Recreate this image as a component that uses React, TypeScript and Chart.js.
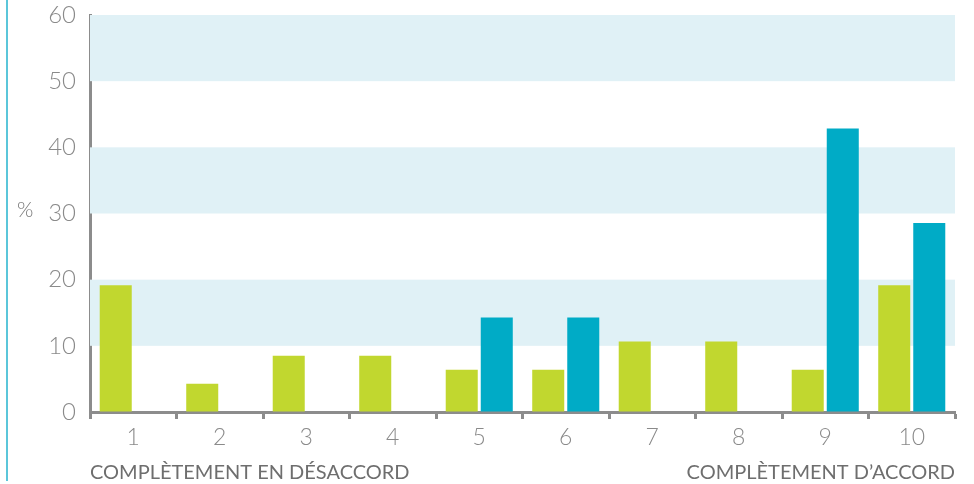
import React, { useEffect, useRef } from "react";
import { Chart, registerables } from "chart.js";

Chart.register(...registerables);

const categories = ["1", "2", "3", "4", "5", "6", "7", "8", "9", "10"];
const seriesGreen = [19.15, 4.26, 8.51, 8.51, 6.38, 6.38, 10.64, 10.64, 6.38, 19.15];
const seriesBlue = [0, 0, 0, 0, 14.29, 14.29, 0, 0, 42.86, 28.57];
const bandRanges: [number, number][] = [[10, 20], [30, 40], [50, 60]];
const yTitle = "%";
const leftCaption = "COMPLÈTEMENT EN DÉSACCORD";
const rightCaption = "COMPLÈTEMENT D\u2019ACCORD";

const FONT = "Lato, 'Open Sans', sans-serif";
const GRAY = "#8c8c8c";

const decorPlugin = {
  id: "decor",
  beforeDatasetsDraw(chart: any) {
    const { ctx, chartArea, scales } = chart;
    const y = scales.y;
    ctx.save();
    ctx.fillStyle = "#e0f1f6";
    for (const [a, b] of bandRanges) {
      const top = y.getPixelForValue(b);
      const bot = y.getPixelForValue(a);
      ctx.fillRect(chartArea.left, top, chartArea.right - chartArea.left, bot - top);
    }
    ctx.restore();
  },
  afterDraw(chart: any) {
    const { ctx, chartArea, scales } = chart;
    ctx.save();
    ctx.strokeStyle = "#5bc6da";
    ctx.lineWidth = 2;
    ctx.beginPath();
    ctx.moveTo(7, 0);
    ctx.lineTo(7, 481);
    ctx.stroke();
    ctx.fillStyle = "#777";
    ctx.font = `300 21px ${FONT}`;
    ctx.textAlign = "left";
    ctx.textBaseline = "middle";
    ctx.fillText(yTitle, 17, scales.y.getPixelForValue(30) - 3);
    ctx.fillStyle = "#6e6e6e";
    ctx.font = `400 20px ${FONT}`;
    ctx.textBaseline = "alphabetic";
    ctx.textAlign = "left";
    ctx.fillText(leftCaption, chartArea.left, 479);
    ctx.textAlign = "right";
    ctx.fillText(rightCaption, chartArea.right, 479);
    ctx.restore();
  },
};

export default function App() {
  const ref = useRef<HTMLCanvasElement>(null);
  useEffect(() => {
    const chart = new Chart(ref.current!, {
      type: "bar",
      data: {
        labels: categories,
        datasets: [
          { data: seriesGreen, backgroundColor: "#c1d72f", categoryPercentage: 0.81, barPercentage: 0.914 },
          { data: seriesBlue, backgroundColor: "#00abc6", categoryPercentage: 0.81, barPercentage: 0.914 },
        ],
      },
      options: {
        animation: false,
        responsive: false,
        layout: { padding: { top: 15, right: 19, left: 0, bottom: 0 } },
        plugins: { legend: { display: false }, tooltip: { enabled: false } },
        scales: {
          x: {
            grid: {
              display: true,
              drawOnChartArea: false,
              drawTicks: true,
              tickLength: 7,
              tickWidth: 3,
              tickColor: GRAY,
              color: GRAY,
            },
            border: { display: true, color: GRAY, width: 3 },
            ticks: { color: "#8a8a8a", font: { family: FONT, size: 23, weight: "300" }, padding: 5 },
            afterFit: (s: any) => { s.height = 72; s.paddingLeft = 0; s.paddingRight = 0; },
          },
          y: {
            min: 0,
            max: 60,
            ticks: { stepSize: 10, color: "#8a8a8a", font: { family: FONT, size: 24, weight: "300" }, padding: 14 },
            grid: { display: true, drawOnChartArea: false, drawTicks: false, color: "rgba(0,0,0,0)" },
            border: { display: true, color: GRAY, width: 3 },
            afterFit: (s: any) => { s.width = 90; s.paddingTop = 0; s.paddingBottom = 0; },
          },
        },
      },
      plugins: [decorPlugin],
    });
    return () => chart.destroy();
  }, []);
  return (
    <canvas
      ref={ref}
      width={974}
      height={484}
      style={{ position: "absolute", left: 0, top: 0, width: 974, height: 484 }}
    />
  );
}
